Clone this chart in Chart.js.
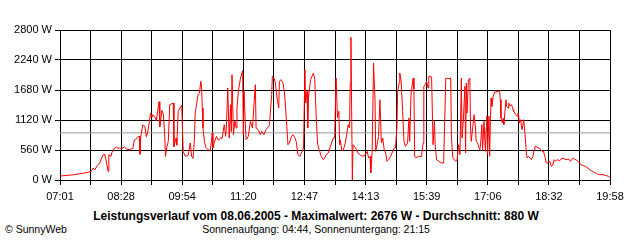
<!DOCTYPE html>
<html>
<head>
<meta charset="utf-8">
<script src="https://cdn.jsdelivr.net/npm/chart.js@4"></script>
<style>
  body { margin: 0; background: #fff; width: 640px; height: 240px; overflow: hidden; position: relative; font-family: "Liberation Sans", Arial, sans-serif; }
  #powerChart { position: absolute; left: 0; top: 0; }
  .caption { position: absolute; left: 0; width: 640px; text-align: center; color: #000; white-space: nowrap; }
  #title { top: 209px; left: -4px; font-size: 12px; font-weight: bold; }
  #sun { top: 223px; left: -4px; font-size: 10.5px; }
  #copy { position: absolute; left: 5px; top: 223px; font-size: 10.5px; }
</style>
</head>
<body>
<canvas id="powerChart" width="640" height="207"></canvas>
<div class="caption" id="title">Leistungsverlauf vom 08.06.2005 - Maximalwert: 2676 W - Durchschnitt: 880 W</div>
<div class="caption" id="sun">Sonnenaufgang: 04:44, Sonnenuntergang: 21:15</div>
<div id="copy">© SunnyWeb</div>
<script>
// x labels shown under every second grid line
const timeLabels = ["07:01", "08:28", "09:54", "11:20", "12:47", "14:13", "15:39", "17:06", "18:32", "19:58"];

// minutes after 07:01
const minutes = [0,10,20,30,38,44,47,49,53,56,61,63,65,68,69,72,73,76,80,82,84,87,91,94,98,
  103,105,107,110,112,113,114,117,120,122,124,127,128,130,131,134,136,139,140,141,144,146,148,149,
  151,153,155,160,161,164,165,167,171,172,174,177,181,184,186,188,190,191,195,197,199,200,201,202,
  204,206,209,212,214,215,216,218,221,224,227,229,232,234,235,237,239,241,242,243,245,247,249,250,
  252,255,258,259,260,262,263,266,269,272,274,276,277,280,283,285,288,291,295,296,299,300,302,304,
  307,309,310,312,315,317,320,322,324,327,329,332,334,336,339,341,344,346,347,349,350,351,354,356,
  358,360,362,364,367,369,372,374,376,379,382,386,388,390,392,394,395,396,398,400,403,405,407,409,
  410,411,412,413,414,419,421,425,428,431,434,436,438,439,440,441,443,445,446,448,450,452,454,456,
  458,460,462,464,467,469,472,474,476,477,479,480,482,484,486,488,491,493,494,495,496,497,499,500,
  501,503,506,510,511,513,514,516,518,520,521,524,525,527,529,530,532,535,539,542,545,548,552,553,
  555,557,559,561,563,565,566,567,568,570,572,573,574,575,577,579,580,581,583,585,587,588,590,593,
  594,596,597,599,601,602,603,604,606,607,608,609,610,612,614,616,619,621,622,623,625,626,627,630,
  631,633,634,636,638,640,641,644,646,647,648,649,651,652,653,655,656,657,659,660,662,664,666,668,
  670,671,673,675,677,679,681,683,685,687,689,692,694,696,698,700,702,706,709,712,715,719,721,725,
  727,731,734,736,740,744,746,748,751,754,758,761,767,772,775,777];

// power in W
const watts = [75,85,100,120,140,160,224,190,275,317,472,485,380,162,472,440,504,584,616,590,597,585,616,580,565,
  590,747,760,800,820,480,800,1027,1000,808,900,1157,1250,1180,1219,1180,1100,1375,1462,995,1300,1230,815,442,
  622,720,1406,1437,622,784,650,1282,1375,1400,535,442,460,690,442,405,784,1250,1592,1624,1842,1720,1344,971,
  722,610,566,547,722,877,600,700,815,740,790,770,1033,815,971,1717,784,1406,900,1966,846,1100,971,1344,
  1655,1904,2040,846,1655,971,753,815,1095,971,1406,1779,971,939,846,908,846,940,1002,1033,1592,1935,1904,1840,
  1499,1344,1842,1873,1810,1655,1095,659,690,815,846,784,700,472,442,504,597,2059,1437,1655,971,1531,1873,1935,
  1997,1873,1157,659,535,442,380,411,472,504,628,784,784,1904,1157,1282,659,750,560,547,690,846,1033,971,
  1810,2664,1344,0,659,566,504,460,442,470,535,411,440,131,286,566,2184,1499,535,659,815,1499,690,784,
  566,504,349,380,442,504,597,600,1002,1655,1810,1997,1842,1282,722,628,690,1157,720,1189,1655,1717,1904,1700,
  442,411,442,440,472,690,1749,1779,1842,1717,1935,1935,1904,659,1095,659,380,349,317,317,1904,1891,1904,784,
  411,380,349,380,659,472,1157,1904,784,1157,1749,504,1810,1250,1873,1904,971,722,971,1219,971,722,690,566,
  628,1033,566,1095,535,971,1189,472,1189,442,1095,1531,1375,1562,1643,1643,1655,1667,1499,1157,1064,1150,1033,1499,
  1375,1344,1437,1380,1406,1312,1282,1219,1189,1250,1190,1064,1126,971,939,1126,1000,846,472,411,442,411,380,440,
  566,628,628,597,600,566,535,535,442,317,317,349,255,270,380,349,380,360,411,398,380,390,349,411,
  392,361,317,286,268,237,224,193,174,149,118,100,100,81,68,50];

const averageWatts = 880;
const maxWatts = 2800;
const wattStep = 560;

const totalMinutes = minutes[minutes.length - 1];
const gridCount = (timeLabels.length - 1) * 2;

const ctx = document.getElementById("powerChart").getContext("2d");

const powerChart = new Chart(ctx, {
  type: "line",
  data: {
    datasets: [
      {
        label: "Leistung",
        data: minutes.map((m, i) => ({ x: m, y: watts[i] })),
        borderColor: "#ff0000",
        borderWidth: 1,
        pointRadius: 0,
        tension: 0,
        fill: false,
      },
      {
        label: "Durchschnitt",
        data: [
          { x: 0, y: averageWatts },
          { x: totalMinutes, y: averageWatts },
        ],
        borderColor: "#999999",
        borderWidth: 1,
        pointRadius: 0,
        fill: false,
      },
    ],
  },
  options: {
    responsive: false,
    animation: false,
    devicePixelRatio: 1,
    layout: { padding: { top: 30, right: 30, left: 0, bottom: 0 } },
    plugins: { legend: { display: false }, tooltip: { enabled: false } },
    scales: {
      x: {
        type: "linear",
        min: 0,
        max: totalMinutes,
        afterBuildTicks: (scale) => {
          let ticks = [];
          for (let i = 0; i <= gridCount; i++) {
            ticks.push({ value: (i * totalMinutes) / gridCount });
          }
          scale.ticks = ticks;
        },
        afterFit: (scale) => {
          scale.height = 27;
        },
        ticks: {
          autoSkip: false,
          maxRotation: 0,
          padding: 5,
          color: "#000",
          font: { family: "Liberation Sans", size: 11 },
          callback: (value, index) => (index % 2 === 0 ? timeLabels[index / 2] : ""),
        },
        grid: { color: "#000", lineWidth: 1, tickLength: 5, tickColor: "#000" },
        border: { color: "#000" },
      },
      y: {
        min: 0,
        max: maxWatts,
        afterFit: (scale) => {
          scale.width = 60;
        },
        ticks: {
          stepSize: wattStep,
          padding: 3,
          color: "#000",
          font: { family: "Liberation Sans", size: 11 },
          callback: (value) => value + " W",
        },
        grid: { color: "#000", lineWidth: 1, tickLength: 5, tickColor: "#000" },
        border: { color: "#000" },
      },
    },
  },
});
</script>
</body>
</html>
